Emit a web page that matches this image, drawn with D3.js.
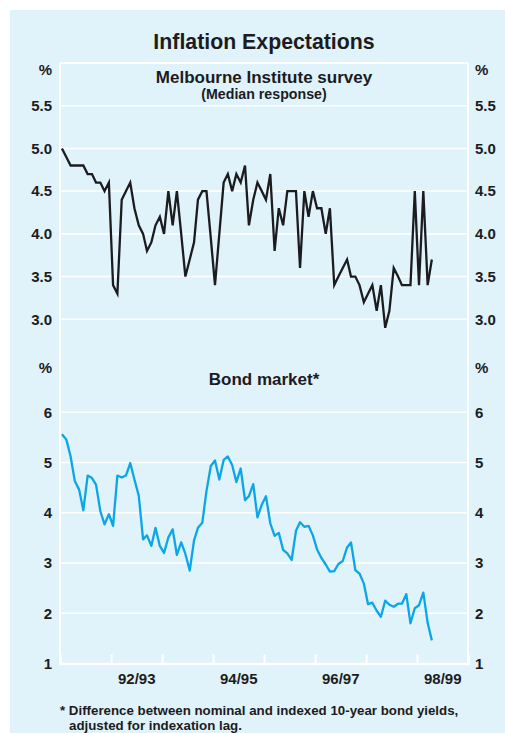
<!DOCTYPE html>
<html>
<head>
<meta charset="utf-8">
<script src="https://cdn.jsdelivr.net/npm/d3@7"></script>
<style>
  html, body { margin: 0; padding: 0; background: #ffffff; }
  svg { display: block; }
  text { font-family: "Liberation Sans", Arial, sans-serif; font-weight: bold; fill: #1c1c1e; }
</style>
</head>
<body>
<svg id="chart" width="505" height="733"></svg>
<script>
// Monthly observations, July 1991 to October 1998
const seriesStart = new Date(1991, 6, 1);

// Melbourne Institute survey, median expected inflation (%)
const surveyValues = [
  5.0, 4.9, 4.8, 4.8, 4.8, 4.8, 4.7, 4.7, 4.6, 4.6, 4.5, 4.6,
  3.4, 3.3, 4.4, 4.5, 4.6, 4.3, 4.1, 4.0, 3.8, 3.9, 4.1, 4.2,
  4.0, 4.5, 4.1, 4.5, 4.0, 3.5, 3.7, 3.9, 4.4, 4.5, 4.5, 3.95,
  3.4, 4.0, 4.6, 4.7, 4.5, 4.7, 4.6, 4.8, 4.1, 4.4, 4.6, 4.5,
  4.4, 4.7, 3.8, 4.3, 4.1, 4.5, 4.5, 4.5, 3.6, 4.5, 4.2, 4.5,
  4.3, 4.3, 4.0, 4.3, 3.4, 3.5, 3.6, 3.7, 3.5, 3.5, 3.4, 3.2,
  3.3, 3.4, 3.1, 3.4, 2.9, 3.1, 3.6, 3.5, 3.4, 3.4, 3.4, 4.5,
  3.4, 4.5, 3.4, 3.7
];

// Bond market: nominal less indexed 10-year yield (%)
const bondValues = [
  5.56, 5.46, 5.12, 4.63, 4.46, 4.05, 4.74, 4.69, 4.56, 4.03, 3.77, 3.97,
  3.74, 4.74, 4.70, 4.74, 4.99, 4.66, 4.34, 3.47, 3.55, 3.34, 3.70, 3.34,
  3.20, 3.51, 3.67, 3.16, 3.41, 3.18, 2.85, 3.45, 3.70, 3.80, 4.43, 4.93,
  5.04, 4.66, 5.05, 5.12, 4.95, 4.61, 4.88, 4.25, 4.33, 4.57, 3.91, 4.16,
  4.33, 3.79, 3.54, 3.60, 3.26, 3.19, 3.06, 3.64, 3.81, 3.72, 3.74, 3.55,
  3.27, 3.10, 2.97, 2.83, 2.84, 2.98, 3.04, 3.31, 3.41, 2.86, 2.79, 2.59,
  2.18, 2.21, 2.05, 1.93, 2.25, 2.17, 2.13, 2.19, 2.19, 2.38, 1.80, 2.10,
  2.16, 2.41, 1.81, 1.46
];

// Axis ticks and labels
const surveyTicks = [3.0, 3.5, 4.0, 4.5, 5.0, 5.5];
const bondTicks = [2, 3, 4, 5, 6];
const yearLabels = ["92/93", "94/95", "96/97", "98/99"];
const yearLabelDates = [new Date(1993, 0, 1), new Date(1995, 0, 1), new Date(1997, 0, 1), new Date(1999, 0, 1)];
const fyBoundaries = d3.range(1992, 1999).map(y => new Date(y, 6, 1));

const monthDate = i => new Date(seriesStart.getFullYear(), seriesStart.getMonth() + i, 15);
const surveyData = surveyValues.map((v, i) => ({ date: monthDate(i), v }));
const bondData = bondValues.map((v, i) => ({ date: monthDate(i), v }));

const svg = d3.select("#chart");
const plotLeft = 60, plotRight = 468, plotTop = 63, plotMid = 362, plotBottom = 663.5;
const bg = "#e0f2fa";
const tickFont = "15px";

svg.append("rect").attr("x", 10).attr("y", 10).attr("width", 495).attr("height", 723).attr("fill", bg);

const x = d3.scaleTime().domain([new Date(1991, 6, 1), new Date(1999, 6, 1)]).range([plotLeft, plotRight]);
const yTop = d3.scaleLinear().domain([2.5, 6]).range([plotMid, plotTop]);
const yBot = d3.scaleLinear().domain([1, 7]).range([plotBottom, plotMid]);

// Titles
svg.append("text").attr("x", 264).attr("y", 49).attr("text-anchor", "middle")
  .style("font-size", "21.3px").text("Inflation Expectations");
svg.append("text").attr("x", 264).attr("y", 82.5).attr("text-anchor", "middle")
  .style("font-size", "17px").text("Melbourne Institute survey");
svg.append("text").attr("x", 264).attr("y", 99).attr("text-anchor", "middle")
  .style("font-size", "14.2px").text("(Median response)");
svg.append("text").attr("x", 264).attr("y", 385).attr("text-anchor", "middle")
  .style("font-size", "17px").text("Bond market*");

// Horizontal gridlines
const grid = svg.append("g").attr("stroke", "#ffffff").attr("stroke-width", 1.6);
grid.selectAll("line.top").data(surveyTicks).join("line")
  .attr("x1", plotLeft).attr("x2", plotRight).attr("y1", d => yTop(d)).attr("y2", d => yTop(d));
grid.selectAll("line.bot").data(bondTicks).join("line")
  .attr("x1", plotLeft).attr("x2", plotRight).attr("y1", d => yBot(d)).attr("y2", d => yBot(d));

// Frame: top edge and both vertical edges
const frame = svg.append("g").attr("stroke", "#ffffff").attr("stroke-width", 2).attr("fill", "none");
frame.append("line").attr("x1", plotLeft).attr("x2", plotRight).attr("y1", plotTop).attr("y2", plotTop);
frame.append("line").attr("x1", plotLeft).attr("x2", plotLeft).attr("y1", plotTop).attr("y2", plotBottom);
frame.append("line").attr("x1", plotRight).attr("x2", plotRight).attr("y1", plotTop).attr("y2", plotBottom);

// Bottom time axis with upward ticks on financial-year boundaries
const xAxis = d3.axisBottom(x).tickValues(fyBoundaries).tickSize(-9).tickFormat(() => "");
const gx = svg.append("g").attr("transform", `translate(0,${plotBottom})`).call(xAxis);
gx.select(".domain").attr("stroke", "#ffffff").attr("stroke-width", 2.5);
gx.selectAll(".tick line").attr("stroke", "#ffffff").attr("stroke-width", 2);

svg.append("g").selectAll("text").data(yearLabels).join("text")
  .attr("x", (d, i) => x(yearLabelDates[i]))
  .attr("y", 683.5).attr("text-anchor", "middle").style("font-size", tickFont).text(d => d);

// Value axes on both sides
function valueAxes(scale, ticks, fmt) {
  const gl = svg.append("g").attr("transform", `translate(${plotLeft},0)`)
    .call(d3.axisLeft(scale).tickValues(ticks).tickSize(0).tickPadding(8).tickFormat(fmt));
  const gr = svg.append("g").attr("transform", `translate(${plotRight},0)`)
    .call(d3.axisRight(scale).tickValues(ticks).tickSize(0).tickPadding(7).tickFormat(fmt));
  [gl, gr].forEach(g => {
    g.select(".domain").remove();
    g.selectAll("text").style("font-size", tickFont).style("font-family", '"Liberation Sans", Arial, sans-serif')
      .attr("fill", "#1c1c1e");
  });
}
valueAxes(yTop, surveyTicks, d3.format(".1f"));
valueAxes(yBot, bondTicks.concat([1]), d3.format("d"));

// Percent signs above each panel
[yTop(6) + 7, yBot(7) + 6].forEach(yy => {
  svg.append("text").attr("x", plotLeft - 8).attr("y", yy).attr("dy", "0.32em")
    .attr("text-anchor", "end").style("font-size", tickFont).text("%");
  svg.append("text").attr("x", plotRight + 7).attr("y", yy).attr("dy", "0.32em")
    .attr("text-anchor", "start").style("font-size", tickFont).text("%");
});

// Series lines
svg.append("path").datum(surveyData)
  .attr("fill", "none").attr("stroke", "#1c1c20").attr("stroke-width", 2.3).attr("stroke-linejoin", "miter")
  .attr("d", d3.line().x(d => x(d.date)).y(d => yTop(d.v)));
svg.append("path").datum(bondData)
  .attr("fill", "none").attr("stroke", "#0aa6e8").attr("stroke-width", 2.3).attr("stroke-linejoin", "round")
  .attr("d", d3.line().x(d => x(d.date)).y(d => yBot(d.v)));

// Footnote
svg.append("text").attr("x", 60).attr("y", 715).style("font-size", "13.3px")
  .text("* Difference between nominal and indexed 10-year bond yields,");
svg.append("text").attr("x", 69).attr("y", 730).style("font-size", "13.3px")
  .text("adjusted for indexation lag.");
</script>
</body>
</html>
